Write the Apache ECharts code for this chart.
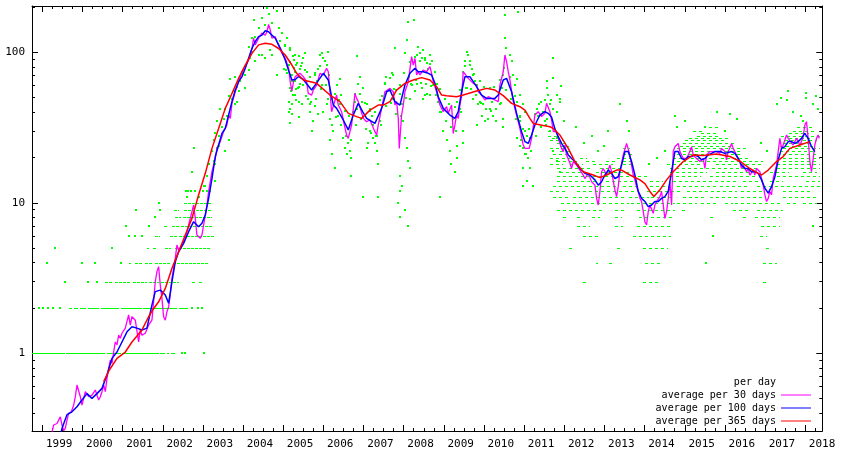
<!DOCTYPE html>
<html><head><meta charset="utf-8">
<script src="https://cdn.jsdelivr.net/npm/echarts@6/dist/echarts.min.js"></script>
<style>html,body{margin:0;padding:0;background:#fff}#c{width:842px;height:455px}</style>
</head><body><div id="c"></div>
<script>
// ---------- tick labels ----------
const yearLabels = ['1999','2000','2001','2002','2003','2004','2005','2006','2007','2008','2009','2010','2011','2012','2013','2014','2015','2016','2017','2018'];
const yLabelValues = [1, 10, 100];
const yMinorValues = [0.4,0.5,0.6,0.7,0.8,0.9,2,3,4,5,6,7,8,9,20,30,40,50,60,70,80,90,200];

// ---------- average per 30 days [year, downloads/day] ----------
const avg30 = [[1999.225,0.286],[1999.283,0.334],[1999.366,0.342],[1999.407,0.36],[1999.449,0.379],[1999.49,0.334],[1999.532,0.306],[1999.573,0.317],[1999.615,0.36],[1999.656,0.399],[1999.723,0.409],[1999.781,0.453],[1999.822,0.515],[1999.864,0.616],[1999.905,0.632],[1999.947,0.515],[1999.988,0.453],[2000.03,0.502],[2000.071,0.556],[2000.154,0.515],[2000.237,0.528],[2000.32,0.57],[2000.403,0.49],[2000.445,0.515],[2000.486,0.556],[2000.528,0.616],[2000.569,0.556],[2000.611,0.681],[2000.652,0.794],[2000.694,0.903],[2000.735,0.858],[2000.777,1.02],[2000.818,1.19],[2000.86,1.14],[2000.901,1.32],[2000.943,1.26],[2000.984,1.36],[2001.067,1.47],[2001.15,1.8],[2001.191,1.54],[2001.233,1.75],[2001.316,1.66],[2001.399,1.19],[2001.44,1.43],[2001.482,1.32],[2001.565,1.36],[2001.648,1.54],[2001.73,1.66],[2001.772,2.2],[2001.813,2.99],[2001.855,3.49],[2001.897,3.77],[2001.938,2.84],[2001.98,2.32],[2002.021,1.75],[2002.063,1.66],[2002.104,1.89],[2002.146,2.04],[2002.187,2.44],[2002.229,3.15],[2002.312,4.27],[2002.353,5.24],[2002.395,4.85],[2002.478,5.24],[2002.561,5.81],[2002.644,7.12],[2002.727,8.73],[2002.768,9.67],[2002.81,7.88],[2002.851,6.11],[2002.934,5.81],[2002.976,6.11],[2003.017,7.12],[2003.059,8.3],[2003.1,9.67],[2003.142,11.9],[2003.225,16.1],[2003.308,19.7],[2003.349,23],[2003.432,25.5],[2003.515,29.7],[2003.598,32.9],[2003.64,38.3],[2003.681,36.4],[2003.723,45.8],[2003.806,54.7],[2003.889,63.8],[2003.972,74.3],[2004.055,80.3],[2004.138,88.9],[2004.221,106],[2004.262,124],[2004.304,112],[2004.387,124],[2004.47,134],[2004.552,130],[2004.594,137],[2004.635,153],[2004.677,141],[2004.718,124],[2004.802,127],[2004.843,118],[2004.885,115],[2004.968,98.4],[2005.05,91.2],[2005.133,78.3],[2005.174,63.8],[2005.216,55.3],[2005.257,63.8],[2005.299,68.9],[2005.334,70.7],[2005.417,72.5],[2005.5,68.9],[2005.583,63.8],[2005.624,53.3],[2005.707,52],[2005.749,56.1],[2005.832,60.6],[2005.915,72.5],[2005.956,74.3],[2005.998,70.7],[2006.081,78.3],[2006.122,74.3],[2006.164,54.7],[2006.205,40.3],[2006.247,39.3],[2006.33,52],[2006.371,44.6],[2006.454,40.3],[2006.496,35.5],[2006.579,28.2],[2006.62,26.8],[2006.662,27.5],[2006.703,32.9],[2006.786,53.3],[2006.828,49.4],[2006.869,47],[2006.911,45.8],[2006.994,36.4],[2007.035,37.4],[2007.077,34.6],[2007.16,35.5],[2007.284,29.7],[2007.326,28.2],[2007.367,32.9],[2007.45,42.4],[2007.533,54.7],[2007.658,57.6],[2007.741,54.7],[2007.782,44.6],[2007.824,47],[2007.865,36.4],[2007.89,23],[2007.948,38.3],[2007.99,44.6],[2008.031,54.7],[2008.114,63.8],[2008.197,93.6],[2008.239,82.3],[2008.28,91.2],[2008.322,70.7],[2008.363,74.3],[2008.405,70.7],[2008.488,76.3],[2008.571,74.3],[2008.654,80.3],[2008.695,72.5],[2008.737,63.8],[2008.82,54.7],[2008.903,44.6],[2008.985,40.3],[2009.068,43.5],[2009.11,39.3],[2009.193,44.6],[2009.234,28.9],[2009.276,32.9],[2009.317,38.3],[2009.359,36.4],[2009.4,44.6],[2009.442,50.7],[2009.483,74.3],[2009.525,76.3],[2009.608,67.1],[2009.649,68.9],[2009.732,62.2],[2009.815,60.6],[2009.857,54.7],[2009.94,52],[2010.023,48.2],[2010.106,50.7],[2010.189,49.4],[2010.272,48.2],[2010.355,47],[2010.396,60.6],[2010.479,74.3],[2010.521,96],[2010.562,86.7],[2010.604,74.3],[2010.645,65.5],[2010.728,47],[2010.811,38.3],[2010.894,31.2],[2010.977,24.2],[2011.019,23],[2011.06,22.5],[2011.127,23],[2011.185,26.8],[2011.268,38.3],[2011.351,40.3],[2011.434,37.4],[2011.517,39.3],[2011.558,45.8],[2011.6,47],[2011.641,40.3],[2011.683,35.5],[2011.725,29.7],[2011.808,29.7],[2011.849,26.8],[2011.932,23],[2011.974,21.9],[2012.015,24.2],[2012.057,20.8],[2012.14,18.3],[2012.181,16.9],[2012.223,18.8],[2012.306,17.8],[2012.389,16.5],[2012.472,15.3],[2012.513,14.5],[2012.596,15.7],[2012.679,13.8],[2012.762,13.1],[2012.804,10.7],[2012.845,9.67],[2012.887,11.9],[2012.928,16.1],[2012.97,16.9],[2013.053,15.3],[2013.094,16.5],[2013.136,17.8],[2013.177,16.1],[2013.219,15.7],[2013.26,12.2],[2013.302,11],[2013.343,12.8],[2013.385,16.1],[2013.468,20.8],[2013.551,24.8],[2013.592,24.2],[2013.634,20.8],[2013.675,17.8],[2013.717,15.3],[2013.758,14.2],[2013.8,12.8],[2013.841,11.9],[2013.883,10.7],[2013.924,10.2],[2013.966,8.73],[2014.007,7.49],[2014.049,7.12],[2014.09,8.73],[2014.132,9.67],[2014.173,9.67],[2014.215,8.51],[2014.256,9.67],[2014.298,10.2],[2014.339,10.2],[2014.381,11],[2014.422,11.9],[2014.464,9.67],[2014.505,7.88],[2014.547,8.73],[2014.588,10.7],[2014.63,13.8],[2014.671,9.67],[2014.713,21.9],[2014.754,23.6],[2014.796,24.2],[2014.837,24.8],[2014.879,21.9],[2014.962,19.7],[2015.045,19.7],[2015.127,21.9],[2015.169,23.6],[2015.21,20.8],[2015.293,19.7],[2015.376,18.8],[2015.459,19.7],[2015.501,16.9],[2015.542,20.8],[2015.625,21.9],[2015.709,21.9],[2015.791,21.9],[2015.874,21.3],[2015.916,23],[2015.999,21.9],[2016.04,19.3],[2016.082,21.9],[2016.165,24.8],[2016.206,23],[2016.289,20.8],[2016.372,18.8],[2016.414,16.9],[2016.455,17.8],[2016.538,16.1],[2016.58,16.9],[2016.621,15.3],[2016.704,16.5],[2016.746,15.3],[2016.787,16.9],[2016.87,16.1],[2016.953,13.1],[2016.995,11.3],[2017.036,10.2],[2017.078,10.7],[2017.119,11.9],[2017.161,11.3],[2017.202,14.5],[2017.285,17.8],[2017.368,26.8],[2017.41,23],[2017.451,24.2],[2017.534,28.2],[2017.576,26.8],[2017.617,27.5],[2017.7,24.2],[2017.742,25.5],[2017.783,26.8],[2017.866,24.2],[2017.907,25.5],[2017.949,27.5],[2017.99,32.9],[2018.031,34.6],[2018.073,26.8],[2018.115,18.8],[2018.156,16.1],[2018.198,19.7],[2018.239,24.2],[2018.281,26.8],[2018.322,28.2],[2018.347,26.8]];

// ---------- average per 100 days ----------
const avg100 = [[1999.449,0.28],[1999.49,0.317],[1999.615,0.391],[1999.739,0.409],[1999.864,0.442],[1999.988,0.49],[2000.113,0.54],[2000.237,0.502],[2000.362,0.54],[2000.486,0.585],[2000.611,0.717],[2000.735,0.926],[2000.86,1.02],[2000.984,1.19],[2001.109,1.39],[2001.233,1.5],[2001.357,1.47],[2001.482,1.43],[2001.606,1.47],[2001.73,2.09],[2001.813,2.57],[2001.938,2.63],[2002.063,2.44],[2002.146,2.15],[2002.229,2.99],[2002.312,4.06],[2002.395,4.73],[2002.519,5.38],[2002.644,6.43],[2002.768,7.49],[2002.893,6.94],[2002.976,7.31],[2003.059,8.3],[2003.142,10.7],[2003.225,14.5],[2003.308,20.3],[2003.391,24.2],[2003.474,28.9],[2003.557,31.2],[2003.64,38.3],[2003.723,47],[2003.806,56.2],[2003.889,63.8],[2003.972,68.9],[2004.055,78.3],[2004.138,91.2],[2004.221,106],[2004.304,118],[2004.387,127],[2004.47,130],[2004.552,139],[2004.635,137],[2004.718,130],[2004.802,124],[2004.885,112],[2004.968,101],[2005.05,89],[2005.133,76],[2005.216,65.5],[2005.299,66],[2005.382,69],[2005.5,66],[2005.707,56.1],[2005.998,72.5],[2006.122,65.5],[2006.247,44.6],[2006.33,42.4],[2006.496,35.5],[2006.62,30.5],[2006.745,38.3],[2006.869,45.8],[2006.977,40.3],[2007.077,36.4],[2007.284,33.7],[2007.45,42.4],[2007.575,54.7],[2007.658,56.2],[2007.782,47],[2007.907,44.6],[2008.031,60.6],[2008.156,72.5],[2008.28,78.3],[2008.363,74.3],[2008.488,74.3],[2008.612,72.5],[2008.695,70.7],[2008.778,62.2],[2008.861,50.7],[2008.985,42.4],[2009.151,38.3],[2009.276,36.4],[2009.359,40.3],[2009.442,54.7],[2009.525,68.9],[2009.649,68.9],[2009.815,59.1],[2009.94,52],[2010.064,49.4],[2010.272,49.4],[2010.355,52],[2010.479,65.5],[2010.562,67.1],[2010.687,54.7],[2010.811,39.3],[2010.936,29.7],[2011.019,25.5],[2011.102,24.8],[2011.185,28.2],[2011.268,32.9],[2011.392,38.3],[2011.517,40.3],[2011.6,39.3],[2011.683,37],[2011.766,31],[2011.849,27.5],[2011.932,24.8],[2012.015,23],[2012.098,20.8],[2012.181,19.7],[2012.264,18.8],[2012.389,16.9],[2012.513,15.7],[2012.638,15.3],[2012.762,14.2],[2012.845,13.1],[2012.928,13.8],[2013.011,15.3],[2013.094,16.5],[2013.177,15.7],[2013.26,14.5],[2013.343,14.9],[2013.426,17.8],[2013.509,21.9],[2013.592,21.9],[2013.675,18.8],[2013.758,15.3],[2013.841,11.9],[2013.924,10.7],[2014.007,10.2],[2014.09,9.43],[2014.173,9.67],[2014.256,10.2],[2014.339,10.2],[2014.422,10.7],[2014.505,11],[2014.588,11.9],[2014.671,16.1],[2014.754,21.9],[2014.837,21.9],[2014.92,19.7],[2015.003,19.3],[2015.086,20.3],[2015.169,20.3],[2015.252,20.8],[2015.335,20.3],[2015.418,19.3],[2015.501,19.7],[2015.584,20.8],[2015.667,21.3],[2015.75,21.9],[2015.874,21.9],[2015.999,21.3],[2016.165,21.9],[2016.248,21.3],[2016.331,19.7],[2016.414,17.8],[2016.497,16.9],[2016.58,16.9],[2016.663,16.1],[2016.746,16.1],[2016.829,15.7],[2016.912,14.2],[2016.995,12.5],[2017.078,11.6],[2017.161,12.8],[2017.244,14.9],[2017.327,19.3],[2017.41,23],[2017.493,23.6],[2017.576,25.5],[2017.659,25.5],[2017.742,24.8],[2017.824,25.5],[2017.907,26.8],[2017.99,28.9],[2018.073,26.8],[2018.156,23.6],[2018.239,21.9]];

// ---------- average per 365 days ----------
const avg365 = [[2000.528,0.648],[2000.669,0.775],[2000.86,0.926],[2001.067,1.02],[2001.233,1.19],[2001.482,1.43],[2001.648,1.75],[2001.747,1.94],[2001.897,2.2],[2002.063,2.7],[2002.229,3.67],[2002.395,4.73],[2002.561,6.11],[2002.727,7.88],[2002.893,11.3],[2003.059,15.7],[2003.225,23],[2003.391,31.2],[2003.557,42.4],[2003.723,53.3],[2003.889,67.1],[2004.055,82.3],[2004.221,98.4],[2004.387,112],[2004.552,115],[2004.718,113],[2004.885,106],[2005.05,96],[2005.216,82.3],[2005.334,72.5],[2005.5,65.5],[2005.832,62.2],[2006.164,52],[2006.413,47],[2006.62,39.3],[2006.828,37.4],[2006.952,36.4],[2007.16,41.3],[2007.367,44.6],[2007.492,44.6],[2007.658,47],[2007.824,56.1],[2008.031,62.2],[2008.239,65.5],[2008.446,67.9],[2008.654,65.5],[2008.82,59.1],[2008.944,52],[2009.068,51.5],[2009.317,50.7],[2009.483,52],[2009.815,55.3],[2010.064,57.6],[2010.272,56.1],[2010.479,51.5],[2010.687,45.8],[2010.894,43.5],[2011.019,41.3],[2011.143,36.4],[2011.226,33.7],[2011.475,32.6],[2011.642,32],[2011.724,31.2],[2011.891,28.2],[2012.098,23],[2012.264,18.8],[2012.472,16.1],[2012.721,15.3],[2012.887,14.7],[2013.053,15.3],[2013.302,16.5],[2013.426,16.5],[2013.634,15.3],[2013.883,14.2],[2014.007,13.4],[2014.132,11.9],[2014.231,11],[2014.381,12.2],[2014.547,14.2],[2014.713,16.1],[2014.962,18.8],[2015.21,20.8],[2015.459,20.6],[2015.791,21.1],[2016.123,20.3],[2016.372,18.9],[2016.621,16.9],[2016.829,15.7],[2016.912,15.3],[2017.078,16.5],[2017.285,18.8],[2017.451,20.3],[2017.617,23],[2017.866,24.2],[2018.115,25.5]];

// ---------- per day: single days [year, count] ----------
const dayDots = [[2002.48,1],[2002.56,1],[2003.03,1],[1998.92,2],[1999.02,2],[1999.14,2],[1999.27,2],[1999.44,2],[2002.73,2],[2002.88,2],[2002.98,2],[1999.57,3],[2000.15,3],[2000.36,3],[1999.12,4],[1999.99,4],[2000.32,4],[2000.97,4],[1999.32,5],[2000.74,5],[2001.15,6],[2001.32,6],[2001.48,6],[2001.09,7],[2001.65,7],[2001.81,8],[2001.34,9],[2001.94,9],[2001.9,10],[2002.58,12],[2002.64,12],[2002.7,12],[2002.81,12],[2003.0,12],[2003.1,12],[2002.6,11],[2002.9,11],
[2004.594,196],[2004.652,181],[2004.47,168],[2004.262,164],[2004.843,188],[2004.552,152],[2004.718,156],[2004.885,144],[2004.968,134],[2005.092,124],[2004.387,144],[2004.304,127],[2004.221,124],[2004.926,118],[2005.05,112],[2005.174,106],[2005.299,96],[2005.257,89],[2005.382,94],[2005.34,85],[2005.133,82],[2005.009,78],[2005.092,73],[2005.216,71],[2005.299,64],[2005.382,59],[2005.174,58],[2005.299,52],[2005.133,47],[2005.382,47],[2005.216,45],[2005.133,40],[2005.174,34],[2005.382,37],[2004.843,71],[2004.718,96],[2004.552,91],[2004.677,104],[2004.47,96],[2004.387,96],[2004.304,87],[2004.179,91],[2004.138,76],[2004.055,71],[2003.972,73],[2003.93,64],[2003.847,59],[2003.764,55],[2003.723,49],[2003.847,47],[2003.889,55],[2003.806,45],[2003.64,51],[2003.557,42],[2003.598,38],[2003.515,36],[2003.474,32],[2003.391,28],[2003.432,42],[2003.349,35],[2003.308,29],[2003.266,26],[2003.349,23],[2003.225,22],[2003.391,24],[2003.557,22],[2003.64,26],[2003.266,19],[2003.308,18],[2003.142,18],[2003.225,15],[2003.059,13],[2003.183,12],[2003.308,14],[2002.727,16],[2002.785,23],[2003.017,13],[2003.1,15],[2003.681,66],[2003.806,69],[2004.138,109],[2004.221,101],[2004.055,58],
[2005.17,103],[2005.25,94],[2005.5,91],[2005.54,99],[2005.33,82],[2005.42,78],[2005.29,74],[2005.46,85],[2005.58,74],[2005.21,64],[2005.38,58],[2005.5,61],[2005.62,49],[2005.67,45],[2005.25,52],[2005.33,48],[2005.17,42],[2005.46,45],[2005.75,58],[2005.83,64],[2005.91,96],[2005.96,99],[2006.0,91],[2006.04,87],[2006.12,101],[2006.08,82],[2005.87,78],[2005.79,71],[2005.96,61],[2005.67,40],[2005.79,44],[2005.87,39],[2005.21,39],[2005.75,35],[2005.71,30],[2006.0,40],[2006.08,45],[2006.12,49],[2006.16,36],[2006.21,33],[2006.25,30],[2006.16,26],[2006.21,21],[2006.29,17],[2006.37,38],[2006.41,45],[2006.45,52],[2006.33,61],[2006.41,66],[2006.5,27],[2006.54,23],[2006.58,21],[2006.66,22],[2006.62,25],[2006.7,20],[2006.74,40],[2006.83,42],[2006.79,53],[2006.87,62],[2006.91,69],[2006.83,94],[2006.95,47],[2006.99,58],[2007.08,45],[2007.16,42],[2007.2,38],[2007.24,33],[2007.16,30],[2007.12,25],[2007.08,23],[2007.24,27],[2007.28,25],[2007.33,22],[2007.37,18],[2007.37,11],[2006.99,11],[2006.7,15],[2007.33,28],[2007.41,35],[2007.45,51],[2007.53,62],[2007.57,69],[2007.66,56],[2007.7,73],[2007.74,71],[2007.78,106],[2007.74,49],[2007.82,56],[2007.91,61],[2007.95,45],[2007.99,35],[2008.07,121],[2008.11,160],[2008.03,99],[2008.14,69],[2008.16,49],[2008.2,61],[2008.26,164],[2008.28,87],[2008.32,96],[2008.36,109],[2008.4,99],[2008.45,91],[2008.49,103],[2008.53,91],[2008.57,85],[2008.61,78],[2008.65,96],[2008.7,87],[2008.74,61],[2008.45,58],[2008.49,49],[2008.53,52],[2008.57,53],[2008.03,27],[2008.07,23],[2008.11,19],[2008.16,17],[2007.91,15],[2007.95,13],[2007.91,12],[2007.87,10],[2007.91,8],[2008.11,7],[2008.03,9],[2008.32,62],[2008.28,55],[2008.65,52],[2008.82,62],[2008.86,47],[2008.9,40],[2008.99,30],[2009.07,26],[2009.15,22],[2009.19,18],[2009.28,16],[2009.32,20],[2009.23,36],[2009.32,47],[2009.4,42],[2009.44,55],[2009.48,74],[2009.52,87],[2009.57,101],[2009.61,96],[2009.65,87],[2009.69,78],[2009.73,71],[2009.77,64],[2009.82,61],[2009.57,58],[2009.73,49],[2009.86,45],[2009.9,47],[2009.98,45],[2010.06,42],[2010.15,42],[2010.19,47],[2009.94,38],[2010.02,35],[2010.11,36],[2010.23,38],[2010.31,42],[2010.4,45],[2010.31,35],[2010.48,36],[2010.44,58],[2010.48,71],[2010.52,124],[2010.56,106],[2010.64,96],[2010.69,87],[2010.73,71],[2010.77,61],[2010.81,66],[2010.48,32],[2009.82,33],[2009.48,30],[2009.48,25],[2009.32,24],[2008.9,11],[2010.85,186],[2010.52,177],[2010.81,47],[2010.89,52],[2010.98,45],[2011.02,40],[2010.89,38],[2010.89,35],[2010.98,31],[2011.06,28],[2011.14,27],[2010.81,27],[2010.89,24],[2010.98,23],[2011.02,21],[2011.1,20],[2010.98,17],[2011.14,17],[2011.06,14],[2011.23,13],[2010.98,13],[2011.31,42],[2011.35,38],[2011.43,47],[2011.47,40],[2011.56,58],[2011.56,64],[2011.6,52],[2011.64,45],[2011.72,42],[2011.81,40],[2011.89,49],[2011.52,35],[2011.64,30],[2011.81,27],[2011.89,25],[2011.72,22],[2011.81,19],[2011.89,16],[2011.56,36],
[2011.725,91],[2011.725,67],[2011.93,60],[2011.81,52],[2011.89,47],[2011.68,48],[2012.0,35],[2012.3,32],[2012.7,28],[2013.1,30],[2013.38,45],[2013.55,35],[2014.75,38],[2014.8,32],[2015.0,35],[2015.8,40],[2016.12,39],[2016.3,36],[2017.3,45],[2017.4,50],[2017.57,55],[2017.55,48],[2017.7,40],[2018.03,54],[2018.03,50],[2018.28,51],[2018.32,42],[2018.2,45],[2017.9,38],[2017.95,35],[2016.0,30],[2015.5,32],[2012.5,25],[2013.0,24],[2013.6,30],[2014.3,20],[2014.1,18],[2014.5,22],[2012.85,22],[2016.9,25],[2017.05,22],[2015.54,4],[2015.7,6],[2018.2,7],
[2005.04,110],[2005.06,76],[2005.16,86],[2005.19,55],[2005.27,79],[2005.31,57],[2005.41,62],[2005.44,81],[2005.53,76],[2005.56,51],[2005.66,69],[2005.69,47],[2005.78,73],[2005.81,49],[2005.92,81],[2005.94,57],[2006.03,88],[2006.06,61],[2006.15,71],[2006.18,49],[2006.28,53],[2006.31,37],[2006.4,48],[2006.43,33],[2006.53,41],[2006.56,28],[2006.65,38],[2006.68,26],[2006.78,47],[2006.8,33],[2006.9,53],[2006.93,36],[2007.03,46],[2007.06,31],[2007.15,41],[2007.18,29],[2007.28,40],[2007.31,28],[2007.4,48],[2007.43,33],[2007.53,63],[2007.56,44],[2007.65,67],[2007.68,46],[2007.77,57],[2007.8,39],[2007.9,53],[2007.93,38],[2008.02,73],[2008.05,50],[2008.15,86],[2008.18,62],[2008.27,93],[2008.3,65],[2008.4,88],[2008.43,63],[2008.52,89],[2008.55,62],[2008.65,83],[2008.68,60],[2008.77,74],[2008.8,52],[2008.9,57],[2008.93,40],[2009.02,49],[2009.05,35],[2009.14,45],[2009.17,32],[2009.27,43],[2009.3,30],[2009.39,56],[2009.42,40],[2009.52,81],[2009.55,58],[2009.64,82],[2009.67,57],[2009.76,72],[2009.79,52],[2009.89,64],[2009.92,46],[2010.01,59],[2010.04,42],[2010.14,58],[2010.17,41],[2010.26,59],[2010.29,42],[2010.39,65],[2010.42,46],[2010.51,79],[2010.54,56],[2010.64,69],[2010.67,49],[2010.76,51],[2010.79,36],[2010.89,37],[2010.92,26],[2011.01,30],[2011.04,21],[2011.13,31],[2011.16,22],[2011.26,39],[2011.29,28],[2011.38,45],[2011.41,32],[2011.51,48],[2011.54,33]];

// ---------- per day: runs of days sharing one count [count, fromYear, toYear] ----------
const denseRuns = [[1,1998.744,1999.56],[1,1999.6,2000.55],[1,2000.6,2000.95],[1,2000.98,2001.9],[1,2001.93,2002.05],[1,2002.1,2002.15],[1,2002.2,2002.3],
[2,1999.66,1999.75],[2,1999.8,1999.9],[2,1999.95,2000.1],[2,2000.15,2000.4],[2,2000.45,2000.9],[2,2000.95,2001.48],[2,2001.5,2002.35],[2,2002.4,2002.64]];
const midRuns = [[3,2000.57,2000.75],[3,2000.8,2001.2],[3,2001.25,2001.6],[3,2001.65,2001.9],[3,2001.95,2002.4],[3,2002.73,2002.8],[3,2002.9,2003.0],
[4,2001.15,2001.2],[4,2001.3,2001.48],[4,2001.56,2001.75],[4,2001.8,2002.2],[4,2002.25,2003.14],
[5,2001.6,2001.65],[5,2001.75,2001.86],[5,2002.06,2002.2],[5,2002.3,2003.18],
[6,2001.81,2001.94],[6,2002.19,2002.35],[6,2002.4,2003.27],
[7,2002.02,2002.1],[7,2002.23,2002.4],[7,2002.45,2003.22],
[8,2002.31,2002.45],[8,2002.5,2003.22],
[9,2002.27,2002.4],[9,2002.52,2003.22],
[10,2002.52,2003.22]];
const sparseRuns = [[3,2012.47,2012.56],[3,2013.97,2014.05],[3,2014.12,2014.42],[3,2016.96,2017.06],
[4,2012.78,2012.85],[4,2013.12,2013.18],[4,2014.0,2014.46],[4,2016.95,2017.29],
[5,2012.12,2012.26],[5,2013.3,2013.41],[5,2013.97,2014.59],[5,2017.02,2017.12],
[6,2012.47,2012.89],[6,2013.72,2014.65],[6,2016.87,2017.04],
[7,2012.31,2012.64],[7,2013.26,2013.47],[7,2013.8,2014.71],[7,2016.91,2017.37],
[8,2011.97,2012.06],[8,2012.31,2012.47],[8,2012.7,2012.9],[8,2013.26,2013.43],[8,2013.85,2014.7],[8,2015.63,2015.7],[8,2016.44,2016.58],[8,2016.75,2017.37],
[9,2011.81,2011.89],[9,2011.97,2013.01],[9,2013.26,2013.55],[9,2013.8,2014.75],[9,2014.92,2015.04],[9,2016.21,2016.62],[9,2016.8,2017.45],
[10,2011.93,2013.2],[10,2013.25,2013.6],[10,2013.65,2014.75],[10,2014.8,2015.3],[10,2015.4,2015.8],[10,2016.0,2016.2],[10,2016.25,2017.45],[10,2017.55,2017.8],[10,2017.95,2018.3],
[11,2011.72,2012.14],[11,2012.22,2013.55],[11,2013.6,2014.1],[11,2014.15,2014.7],[11,2014.96,2015.55],[11,2015.63,2016.3],[11,2016.4,2016.95],[11,2017.45,2018.3],
[12,2011.64,2012.06],[12,2012.31,2013.15],[12,2013.22,2013.8],[12,2014.05,2014.95],[12,2015.05,2016.3],[12,2016.4,2016.95],[12,2017.45,2018.2],
[13,2011.72,2013.3],[13,2013.47,2013.88],[13,2014.13,2014.6],[13,2014.8,2015.8],[13,2015.87,2016.6],[13,2016.79,2017.63],[13,2017.7,2018.36],
[14,2011.81,2012.8],[14,2013.05,2013.8],[14,2014.13,2014.46],[14,2014.71,2016.3],[14,2016.46,2016.95],[14,2017.12,2017.45],[14,2018.03,2018.36],
[15,2011.81,2013.3],[15,2013.38,2014.05],[15,2014.63,2015.4],[15,2015.63,2016.79],[15,2017.29,2018.36],
[16,2011.89,2012.64],[16,2012.8,2013.63],[16,2014.63,2015.55],[16,2015.79,2016.62],[16,2017.12,2017.6],[16,2017.95,2018.3],
[17,2011.81,2012.64],[17,2012.88,2013.47],[17,2014.63,2016.79],[17,2017.29,2018.36],
[18,2011.64,2011.97],[18,2012.14,2012.47],[18,2012.72,2013.22],[18,2013.45,2013.7],[18,2014.55,2015.45],[18,2015.79,2016.95],[18,2017.29,2018.36],
[19,2011.81,2012.31],[19,2012.55,2012.8],[19,2013.05,2013.3],[19,2013.45,2013.7],[19,2014.8,2016.95],[19,2017.45,2018.28],
[20,2011.64,2012.14],[20,2012.39,2012.56],[20,2013.3,2013.63],[20,2014.7,2016.62],[20,2017.45,2018.36],
[21,2011.72,2012.06],[21,2013.47,2013.72],[21,2014.8,2016.45],[21,2017.29,2018.3],
[22,2011.89,2012.14],[22,2013.5,2013.63],[22,2014.96,2016.37],[22,2017.37,2018.2],
[23,2011.64,2012.06],[23,2013.47,2013.63],[23,2014.8,2016.54],[23,2017.45,2018.36],
[24,2011.89,2012.14],[24,2014.88,2016.2],[24,2017.37,2018.28],
[25,2011.81,2012.06],[25,2014.96,2016.3],[25,2017.45,2018.2],
[26,2011.64,2011.97],[26,2015.0,2016.0],[26,2017.5,2018.3],
[27,2011.7,2011.9],[27,2015.1,2016.1],[27,2017.6,2018.2],
[28,2011.6,2011.85],[28,2015.3,2015.9],[28,2017.4,2018.36],
[29,2015.4,2015.8],[29,2017.6,2018.1],
[30,2011.6,2011.8],[30,2015.2,2015.5],[30,2017.7,2018.3],
[32,2015.6,2015.9],[32,2017.8,2018.2]];

// ---------- chart ----------
const X_MIN = 1998.7435, X_MAX = 2018.425;
const Y_MIN = -0.516, Y_MAX = 2.3076;
const LABEL_SHIFT = 0.42;
const FONT = 'DejaVu Sans Mono';
const lg = v => Math.log10(v);

const majorX = yearLabels.map(Number);
const minorX = [];
for (let y = 1998; y <= 2018; y++) for (const q of [0.25, 0.5, 0.75]) { const t = y + q; if (t > X_MIN && t < X_MAX) minorX.push(t); }
const labelX = majorX.map(y => y + LABEL_SHIFT);

function xAxisDef(pos, ticks, len, withLine, withLabel) {
  return {
    type: 'value', position: pos, min: X_MIN, max: X_MAX,
    axisLine: { show: withLine, onZero: false, lineStyle: { color: '#000', width: 1 } },
    axisTick: { show: true, inside: true, length: len, customValues: ticks, lineStyle: { color: '#000', width: 1 } },
    axisLabel: withLabel ? { show: true, customValues: labelX, formatter: v => yearLabels[Math.round(v - LABEL_SHIFT) - 1999],
      margin: 8, color: '#000', fontFamily: FONT, fontSize: 11 } : { show: false },
    splitLine: { show: false }
  };
}
function yAxisDef(pos, ticks, len, withLine, withLabel) {
  return {
    type: 'value', position: pos, min: Y_MIN, max: Y_MAX,
    axisLine: { show: withLine, onZero: false, lineStyle: { color: '#000', width: 1 } },
    axisTick: { show: true, inside: true, length: len, customValues: ticks, lineStyle: { color: '#000', width: 1 } },
    axisLabel: withLabel ? { show: true, customValues: yLabelValues.map(lg), formatter: v => String(Math.round(Math.pow(10, v))),
      margin: 7, color: '#000', fontFamily: FONT, fontSize: 11 } : { show: false },
    splitLine: { show: false }
  };
}

function runSeries(runs, dash) {
  return {
    type: 'custom', name: 'per day', silent: true, z: 1,
    data: runs.map(([v, a, b]) => [a, b, lg(v)]),
    encode: { x: [0, 1], y: 2 },
    renderItem: (params, api) => {
      const p0 = api.coord([api.value(0), api.value(2)]);
      const p1 = api.coord([api.value(1), api.value(2)]);
      const y = Math.round(p0[1]) + 0.5;
      return { type: 'line', shape: { x1: Math.round(p0[0]), y1: y, x2: Math.max(Math.round(p1[0]), Math.round(p0[0]) + 1), y2: y },
        style: { stroke: '#00ff00', lineWidth: 1, lineDash: dash } };
    }
  };
}

const legendCommon = { right: 31, orient: 'horizontal', align: 'right', itemWidth: 30, itemHeight: 1, padding: 0,
  selectedMode: false, textStyle: { fontFamily: FONT, fontSize: 10, color: '#000' } };

const chart = echarts.init(document.getElementById('c'), null, { renderer: 'canvas' });
chart.setOption({
  animation: false,
  backgroundColor: '#fff',
  grid: { left: 32, top: 6, width: 790.3, height: 425 },
  xAxis: [xAxisDef('bottom', majorX, 6, true, true), xAxisDef('bottom', minorX, 3, false, false),
          xAxisDef('top', majorX, 6, true, false), xAxisDef('top', minorX, 3, false, false)],
  yAxis: [yAxisDef('left', yLabelValues.map(lg), 6, true, true), yAxisDef('left', yMinorValues.map(lg), 3, false, false),
          yAxisDef('right', yLabelValues.map(lg), 6, true, false), yAxisDef('right', yMinorValues.map(lg), 3, false, false)],
  legend: [
    Object.assign({ top: 377, data: [{ name: 'per day', icon: 'rect', itemStyle: { color: 'rgba(0,0,0,0)' } }] }, legendCommon),
    Object.assign({ top: 390, data: [{ name: 'average per 30 days', icon: 'rect', itemStyle: { color: '#ff00ff' } }] }, legendCommon),
    Object.assign({ top: 403, data: [{ name: 'average per 100 days', icon: 'rect', itemStyle: { color: '#0000ff' } }] }, legendCommon),
    Object.assign({ top: 416, data: [{ name: 'average per 365 days', icon: 'rect', itemStyle: { color: '#ff0000' } }] }, legendCommon)
  ],
  series: [
    runSeries(denseRuns, null),
    runSeries(midRuns, [3, 1]),
    runSeries(sparseRuns, [3, 3]),
    {
      type: 'custom', name: 'per day', silent: true, z: 1,
      data: dayDots.map(([t, v]) => [t, lg(v)]),
      encode: { x: 0, y: 1 },
      itemStyle: { color: '#00ff00' },
      renderItem: (params, api) => {
        const c = api.coord([api.value(0), api.value(1)]);
        return { type: 'rect', shape: { x: Math.round(c[0]) - 1, y: Math.round(c[1]) - 1, width: 2, height: 2 }, style: { fill: '#00ff00' } };
      }
    },
    { type: 'line', name: 'average per 30 days', data: avg30.map(([t, v]) => [t, lg(v)]), symbol: 'none', showSymbol: false,
      lineStyle: { color: '#ff00ff', width: 1.3 }, itemStyle: { color: '#ff00ff' }, silent: true, z: 2, clip: true },
    { type: 'line', name: 'average per 100 days', data: avg100.map(([t, v]) => [t, lg(v)]), symbol: 'none', showSymbol: false,
      lineStyle: { color: '#0000ff', width: 1.5 }, itemStyle: { color: '#0000ff' }, silent: true, z: 3, clip: true },
    { type: 'line', name: 'average per 365 days', data: avg365.map(([t, v]) => [t, lg(v)]), symbol: 'none', showSymbol: false,
      lineStyle: { color: '#ff0000', width: 1.5 }, itemStyle: { color: '#ff0000' }, silent: true, z: 4, clip: true }
  ]
});
</script>
</body></html>
